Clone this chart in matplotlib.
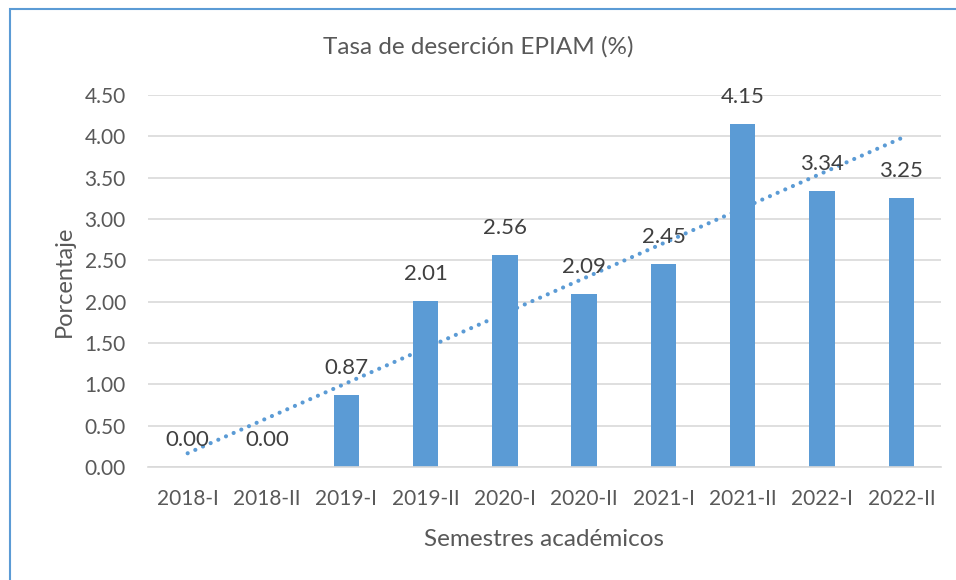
import matplotlib.pyplot as plt
from matplotlib.patches import Rectangle
import numpy as np

semestres = ['2018-I', '2018-II', '2019-I', '2019-II', '2020-I',
             '2020-II', '2021-I', '2021-II', '2022-I', '2022-II']
tasa = [0.00, 0.00, 0.87, 2.01, 2.56, 2.09, 2.45, 4.15, 3.34, 3.25]

plt.rcParams['font.family'] = ['Lato', 'DejaVu Sans']

fig = plt.figure(figsize=(9.56, 5.8), dpi=100)
ax = fig.add_axes([148 / 956, 1 - 467 / 580, (941 - 148) / 956, (467 - 95) / 580])

x = np.arange(len(semestres))
ax.bar(x, tasa, width=0.32, color='#5b9bd5', zorder=2)

# linear trendline like Excel
coef = np.polyfit(x, tasa, 1)
ax.plot(x, np.polyval(coef, x), linestyle=(0, (0.01, 2.0)), dash_capstyle='round',
        color='#5b9bd5', linewidth=3.0, zorder=3)

for xi, v in zip(x, tasa):
    ax.text(xi, v + 0.33, f'{v:.2f}', ha='center', va='center',
            fontsize=16, color='#404040', zorder=4)

ax.set_xlim(-0.5, len(semestres) - 0.5)
ax.set_ylim(0, 4.5)
ax.set_yticks(np.arange(0, 4.51, 0.5))
ax.set_yticklabels([f'{t:.2f}' for t in np.arange(0, 4.51, 0.5)])
ax.set_xticks(x)
ax.set_xticklabels(semestres)
ax.tick_params(axis='both', length=0, labelsize=15, colors='#595959')
ax.tick_params(axis='y', pad=16)
ax.tick_params(axis='x', pad=16)
ax.grid(axis='y', color='#d9d9d9', linewidth=1.2, zorder=0)
ax.set_axisbelow(True)
for s in ['top', 'right', 'left']:
    ax.spines[s].set_visible(False)
ax.spines['bottom'].set_color('#d9d9d9')
ax.spines['bottom'].set_linewidth(1.2)

ax.set_ylabel('Porcentaje', fontsize=17, color='#595959', labelpad=7)
ax.set_xlabel('Semestres académicos', fontsize=17.5, color='#595959', labelpad=14)
fig.text(0.5, 1 - 47 / 580, 'Tasa de deserción EPIAM (%)', ha='center', va='center',
         fontsize=17.5, color='#595959')

fig.patches.append(Rectangle((9.5 / 956, -0.1), 1.1, 1 - 9.5 / 580 + 0.1,
                             transform=fig.transFigure, fill=False,
                             edgecolor='#5b9bd5', linewidth=1.5))

plt.savefig('out.png', dpi=100)
